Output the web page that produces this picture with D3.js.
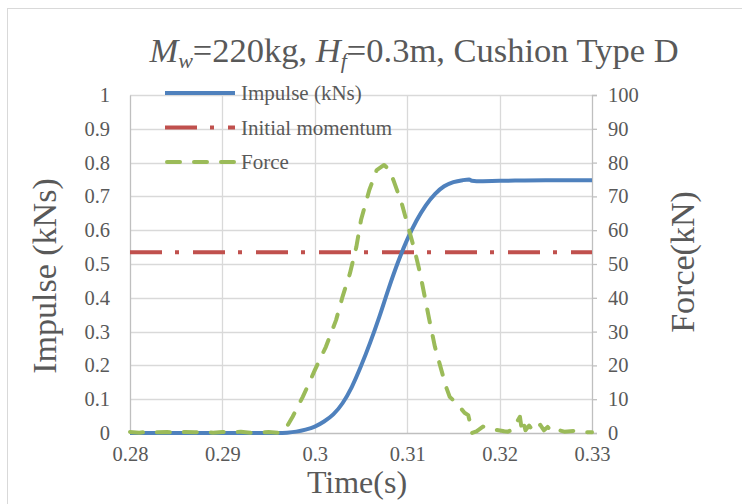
<!DOCTYPE html>
<html>
<head>
<meta charset="utf-8">
<script src="https://cdn.jsdelivr.net/npm/d3@7"></script>
<style>
  html, body { margin: 0; padding: 0; background: #fff; }
  svg text { font-family: "Liberation Serif", "Times New Roman", serif; fill: #595959; }
</style>
</head>
<body>
<svg id="chart" width="742" height="504"></svg>
<script>
"use strict";

// impulse curve (kNs) vs time (s)
const impulseTime = [0.2800, 0.2900, 0.2960, 0.2970, 0.2980, 0.2990, 0.3000, 0.3010, 0.3020, 0.3030,
  0.3040, 0.3050, 0.3060, 0.3070, 0.3080, 0.3090, 0.3100, 0.3110, 0.3120, 0.3130, 0.3140,
  0.3150, 0.3160, 0.3167, 0.3170, 0.3175, 0.3200, 0.3250, 0.3300];
const impulseValue = [0, 0, 0, 0.001, 0.004, 0.010, 0.019, 0.034, 0.055, 0.088,
  0.136, 0.198, 0.268, 0.345, 0.428, 0.505, 0.572, 0.628, 0.673, 0.707, 0.730,
  0.742, 0.748, 0.750, 0.746, 0.745, 0.746, 0.748, 0.748];

// initial momentum (kNs), constant
const momentumTime = [0.28, 0.33];
const momentumValue = [0.535, 0.535];

// force (kN) vs time (s)
const forceTime = [0.2800, 0.2810, 0.2820, 0.2830, 0.2840, 0.2850, 0.2860, 0.2870, 0.2880, 0.2890,
  0.2900, 0.2910, 0.2920, 0.2930, 0.2940, 0.2950, 0.2960, 0.2965, 0.2970, 0.2976,
  0.2987, 0.2995, 0.3000, 0.3012, 0.3023, 0.3030, 0.3038, 0.3045, 0.3050, 0.3059,
  0.3067, 0.3075, 0.3080, 0.3085, 0.3094, 0.3101, 0.3108, 0.3114, 0.3119, 0.3124,
  0.3130, 0.3137, 0.3142, 0.3146, 0.3155, 0.3162, 0.3166, 0.3169, 0.3170, 0.3175,
  0.3182, 0.3190, 0.3197, 0.3205, 0.3209, 0.3214, 0.3218, 0.3222, 0.3224, 0.3226,
  0.3228, 0.3232, 0.3236, 0.3240, 0.3244, 0.3248, 0.3252, 0.3256, 0.3262, 0.3270,
  0.3280, 0.3290, 0.3300];
const forceValue = [0.3, 0.1, 0.4, 0.2, 0.3, 0.1, 0.3, 0.2, 0.4, 0.1,
  0.3, 0.2, 0.4, 0.1, 0.2, 0.3, 0.1, 0.3, 2.0, 4.8,
  10.7, 15.5, 18.6, 25.5, 33.4, 40.3, 47.2, 55.1, 63.0, 71.9,
  77.8, 79.3, 78.0, 74.9, 68.0, 61.0, 54.1, 47.2, 40.3, 33.4,
  25.5, 18.6, 13.7, 10.7, 8.3, 6.0, 5.3, 1.9, 0.0, 0.5,
  1.9, 1.2, 0.9, 0.5, 0.4, 1.0, 2.9, 4.8, 1.0, 3.0,
  0.8, 2.2, 0.6, 2.0, 2.4, 0.8, 1.8, 0.5, 1.0, 0.4,
  0.6, 0.2, 0.2];

const timeTicks = [0.28, 0.29, 0.3, 0.31, 0.32, 0.33];
const impulseTicks = [0, 0.1, 0.2, 0.3, 0.4, 0.5, 0.6, 0.7, 0.8, 0.9, 1];
const forceTicks = [0, 10, 20, 30, 40, 50, 60, 70, 80, 90, 100];

const legendNames = ["Impulse (kNs)", "Initial momentum", "Force"];

const colors = { impulse: "#4F81BD", momentum: "#C0504D", force: "#9BBB59" };
const serif = '"Liberation Serif", "Times New Roman", serif';

const svg = d3.select("#chart");
const plotLeft = 130, plotRight = 592, plotTop = 95, plotBottom = 433;

const x = d3.scaleLinear().domain([0.28, 0.33]).range([plotLeft, plotRight]);
const yL = d3.scaleLinear().domain([0, 1]).range([plotBottom, plotTop]);
const yR = d3.scaleLinear().domain([0, 100]).range([plotBottom, plotTop]);

// outer chart border
svg.append("rect")
  .attr("x", 7.5).attr("y", 8.5)
  .attr("width", 745).attr("height", 510)
  .attr("fill", "none").attr("stroke", "#D9D9D9").attr("stroke-width", 1);

// gridlines
const grid = svg.append("g");
grid.selectAll("line.h")
  .data(impulseTicks.slice(1))
  .enter().append("line")
  .attr("x1", plotLeft).attr("x2", plotRight)
  .attr("y1", d => Math.round(yL(d)) + 0.5).attr("y2", d => Math.round(yL(d)) + 0.5)
  .attr("stroke", "#D9D9D9").attr("stroke-width", 1.3);
grid.selectAll("line.v")
  .data(timeTicks.slice(1, -1))
  .enter().append("line")
  .attr("y1", plotTop).attr("y2", plotBottom)
  .attr("x1", d => Math.round(x(d)) + 0.5).attr("x2", d => Math.round(x(d)) + 0.5)
  .attr("stroke", "#D9D9D9").attr("stroke-width", 1.3);

// axes
const axisL = svg.append("g")
  .attr("transform", `translate(${plotLeft},0)`)
  .call(d3.axisLeft(yL).tickValues(impulseTicks).tickSize(0).tickPadding(20).tickFormat(d => String(d)));
const axisR = svg.append("g")
  .attr("transform", `translate(${plotRight},0)`)
  .call(d3.axisRight(yR).tickValues(forceTicks).tickSize(5).tickPadding(11).tickFormat(d => String(d)));
const axisB = svg.append("g")
  .attr("transform", `translate(0,${plotBottom})`)
  .call(d3.axisBottom(x).tickValues(timeTicks).tickSize(0).tickPadding(13).tickFormat(d => String(d)));

[axisL, axisR, axisB].forEach(a => {
  a.attr("font-family", null);
  a.select(".domain").attr("stroke", "#BFBFBF").attr("stroke-width", 1.3);
  a.selectAll(".tick line").attr("stroke", "#BFBFBF").attr("stroke-width", 1.3);
  a.selectAll("text")
    .style("font-family", serif).style("font-size", "20.5px").style("fill", "#595959");
});

// series
const lineL = d3.line().x(d => x(d[0])).y(d => yL(d[1]));
const lineR = d3.line().x(d => x(d[0])).y(d => yR(d[1]));

svg.append("path")
  .datum(d3.zip(momentumTime, momentumValue))
  .attr("d", lineL)
  .attr("fill", "none").attr("stroke", colors.momentum).attr("stroke-width", 4)
  .attr("stroke-dasharray", "32,13,4,14");

svg.append("path")
  .datum(d3.zip(impulseTime, impulseValue))
  .attr("d", lineL.curve(d3.curveMonotoneX))
  .attr("fill", "none").attr("stroke", colors.impulse).attr("stroke-width", 4)
  .attr("stroke-linejoin", "round");

svg.append("path")
  .datum(d3.zip(forceTime, forceValue))
  .attr("d", lineR)
  .attr("fill", "none").attr("stroke", colors.force).attr("stroke-width", 4)
  .attr("stroke-dasharray", "13,14").attr("stroke-linecap", "round")
  .attr("stroke-linejoin", "round");

// legend
const legendStyle = [
  { color: colors.impulse, dash: null, cap: "butt" },
  { color: colors.momentum, dash: "32,13,4,14", cap: "butt" },
  { color: colors.force, dash: "13,14", cap: "round" }
];
const legend = svg.append("g").selectAll("g")
  .data(legendNames)
  .enter().append("g")
  .attr("transform", (d, i) => `translate(165,${93 + i * 34.5})`);
legend.append("line")
  .attr("x1", (d, i) => i === 2 ? 2 : 0).attr("x2", 70)
  .attr("stroke", (d, i) => legendStyle[i].color)
  .attr("stroke-width", 4)
  .attr("stroke-dasharray", (d, i) => legendStyle[i].dash)
  .attr("stroke-linecap", (d, i) => legendStyle[i].cap);
legend.append("text")
  .attr("x", 76).attr("y", 7)
  .style("font-family", serif).style("font-size", "21px")
  .text(d => d);

// title
const title = svg.append("text")
  .attr("x", 414).attr("y", 62)
  .attr("text-anchor", "middle")
  .style("font-family", serif).style("font-size", "34.5px");
title.append("tspan").attr("font-style", "italic").text("M");
title.append("tspan").attr("font-style", "italic").style("font-size", "22px").attr("dy", 6).text("w");
title.append("tspan").attr("dy", -6).text("=220kg, ");
title.append("tspan").attr("font-style", "italic").text("H");
title.append("tspan").attr("font-style", "italic").style("font-size", "22px").attr("dy", 6).text("f");
title.append("tspan").attr("dy", -6).text("=0.3m, Cushion Type D");

// axis titles
svg.append("text")
  .attr("transform", "translate(56,276) rotate(-90)")
  .attr("text-anchor", "middle")
  .style("font-family", serif).style("font-size", "34px")
  .text("Impulse (kNs)");
svg.append("text")
  .attr("transform", "translate(694,262) rotate(-90)")
  .attr("text-anchor", "middle")
  .style("font-family", serif).style("font-size", "34px")
  .text("Force(kN)");
svg.append("text")
  .attr("x", 357).attr("y", 493)
  .attr("text-anchor", "middle")
  .style("font-family", serif).style("font-size", "32px")
  .text("Time(s)");
</script>
</body>
</html>
